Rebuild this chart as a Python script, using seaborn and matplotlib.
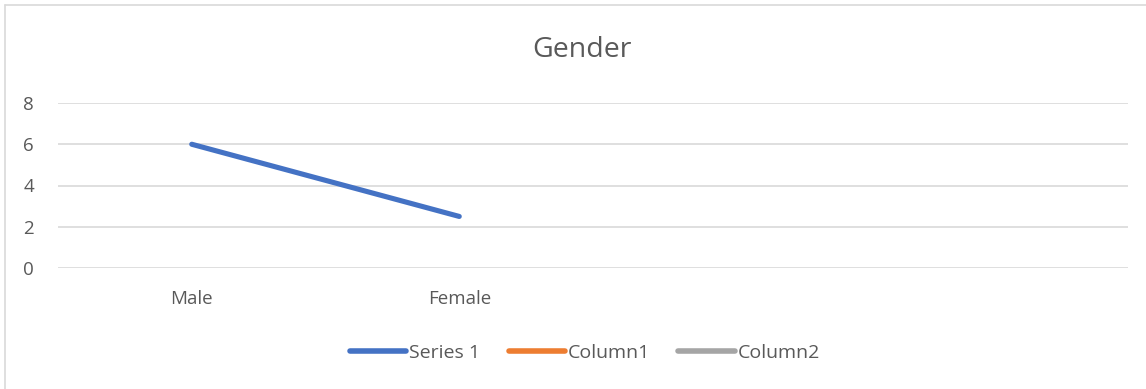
import numpy as np
import pandas as pd
import matplotlib
matplotlib.use("Agg")
import matplotlib.pyplot as plt
from matplotlib.lines import Line2D
import seaborn as sns

categories = ["Male", "Female", "", " "]
series1 = [6, 2.5, np.nan, np.nan]
column1 = [np.nan, np.nan, np.nan, np.nan]
column2 = [np.nan, np.nan, np.nan, np.nan]
series_names = ["Series 1", "Column1", "Column2"]
colors = ["#4472C4", "#ED7D31", "#A5A5A5"]
yticks = [0, 2, 4, 6, 8]

sns.set_theme(style="white")
plt.rcParams['font.family'] = ['Open Sans', 'DejaVu Sans']
text_color = "#595959"

W, H = 1146, 389
fig = plt.figure(figsize=(W / 100, H / 100), dpi=100)
ax = fig.add_axes([58 / W, 1 - 268 / H, (1128 - 58) / W, (268 - 103) / H])

x = np.arange(len(categories))
df = pd.DataFrame({"x": np.tile(x, 3),
                   "value": series1 + column1 + column2,
                   "series": np.repeat(series_names, len(categories))})
for name, col in zip(series_names, colors):
    sub = df[df["series"] == name]
    sns.lineplot(data=sub, x="x", y="value", ax=ax, color=col, lw=3.7,
                 solid_capstyle="round", label=name, legend=False)

ax.set_xlim(-0.5, len(categories) - 0.5)
ax.set_ylim(0, 8)
ax.set_yticks(yticks)
ax.set_yticklabels([str(t) for t in yticks], color=text_color, fontsize=13.5)
ax.set_xticks(x)
ax.set_xticklabels(categories, color=text_color, fontsize=13.5)
ax.tick_params(axis="both", length=0)
ax.tick_params(axis="y", pad=25)
ax.tick_params(axis="x", pad=16)
for lab in ax.get_yticklabels():
    lab.set_horizontalalignment("left")
ax.grid(axis="y", color="#D9D9D9", lw=1.2)
ax.set_axisbelow(True)
for s in ax.spines.values():
    s.set_visible(False)
ax.set_xlabel("")
ax.set_ylabel("")

fig.text(582 / W, 1 - 57 / H, "Gender", ha="center", va="baseline",
         fontsize=20.5, color=text_color)

handles = [Line2D([0], [0], color=c, lw=4.0, solid_capstyle="round") for c in colors]
fig.legend(handles, series_names, loc="center", bbox_to_anchor=(585 / W, 1 - 353 / H),
           ncol=3, frameon=False, fontsize=14, labelcolor=text_color,
           handlelength=2.9, handletextpad=0.15, columnspacing=1.45)

fig.add_artist(Line2D([5 / W, 5 / W], [0, 1 - 5 / H], color="#D9D9D9", lw=1.2,
                      transform=fig.transFigure))
fig.add_artist(Line2D([5 / W, 1], [1 - 5 / H, 1 - 5 / H], color="#D9D9D9", lw=1.2,
                      transform=fig.transFigure))

fig.savefig("out.png", dpi=100, facecolor="white")
